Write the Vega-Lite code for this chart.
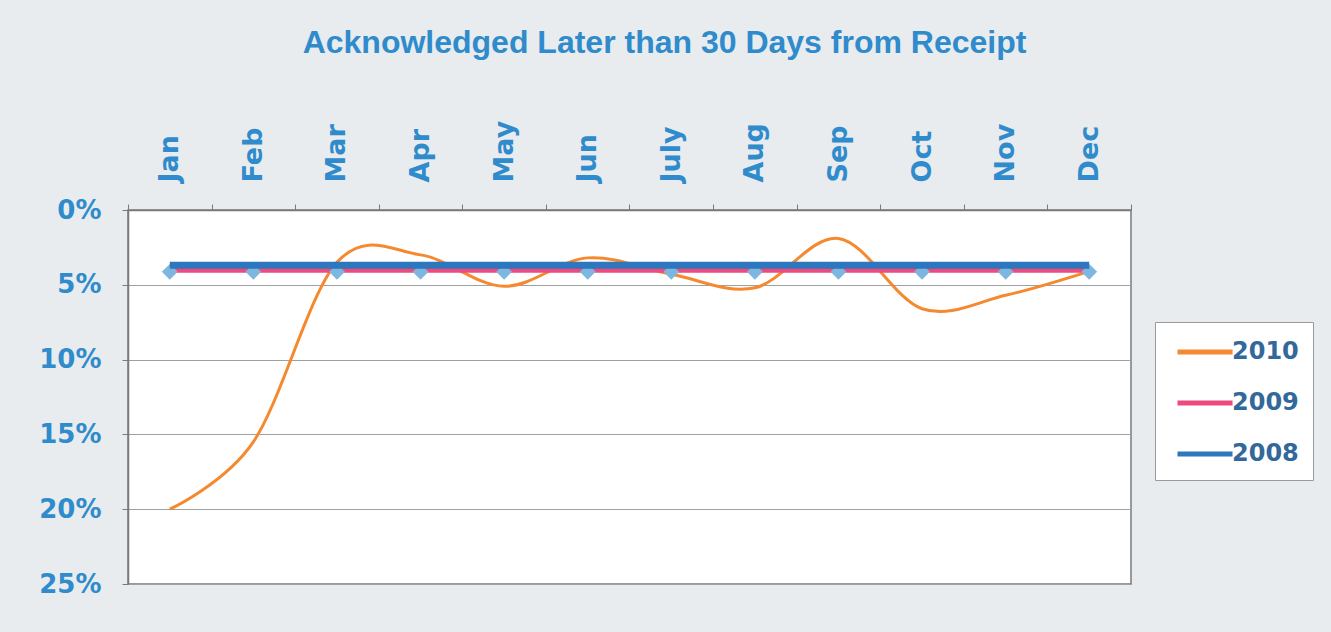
{
  "$schema": "https://vega.github.io/schema/vega-lite/v6.json",
  "width": 1003,
  "height": 374,
  "autosize": {"type": "none"},
  "padding": {"left": 128, "top": 210, "right": 200, "bottom": 48},
  "background": "#E8ECEE",
  "title": {
    "text": "Acknowledged Later than 30 Days from Receipt",
    "font": "Liberation Sans",
    "fontSize": 32,
    "fontWeight": "bold",
    "color": "#2F8BCB",
    "anchor": "middle",
    "dx": 35,
    "offset": 60
  },
  "config": {
    "font": "DejaVu Sans",
    "view": {"fill": "white", "stroke": "#7a7a7a", "strokeWidth": 1.5},
    "legend": {
      "orient": "none",
      "legendX": 1027,
      "legendY": 112,
      "fillColor": "white",
      "strokeColor": "#9a9a9a",
      "padding": 14,
      "symbolType": "M-0.556,0H3.52",
      "symbolSize": 729,
      "symbolStrokeWidth": 5,
      "labelOffset": 31,
      "rowPadding": 23,
      "labelFont": "DejaVu Sans",
      "labelFontSize": 24,
      "labelFontWeight": "bold",
      "labelColor": "#33689A"
    }
  },
  "data": {
    "values": [
      {"month": "Jan", "year": "2010", "value": 0.200},
      {"month": "Feb", "year": "2010", "value": 0.155},
      {"month": "Mar", "year": "2010", "value": 0.035},
      {"month": "Apr", "year": "2010", "value": 0.030},
      {"month": "May", "year": "2010", "value": 0.051},
      {"month": "Jun", "year": "2010", "value": 0.032},
      {"month": "July", "year": "2010", "value": 0.043},
      {"month": "Aug", "year": "2010", "value": 0.052},
      {"month": "Sep", "year": "2010", "value": 0.019},
      {"month": "Oct", "year": "2010", "value": 0.066},
      {"month": "Nov", "year": "2010", "value": 0.057},
      {"month": "Dec", "year": "2010", "value": 0.041},
      {"month": "Jan", "year": "2009", "value": 0.040},
      {"month": "Feb", "year": "2009", "value": 0.040},
      {"month": "Mar", "year": "2009", "value": 0.040},
      {"month": "Apr", "year": "2009", "value": 0.040},
      {"month": "May", "year": "2009", "value": 0.040},
      {"month": "Jun", "year": "2009", "value": 0.040},
      {"month": "July", "year": "2009", "value": 0.040},
      {"month": "Aug", "year": "2009", "value": 0.040},
      {"month": "Sep", "year": "2009", "value": 0.040},
      {"month": "Oct", "year": "2009", "value": 0.040},
      {"month": "Nov", "year": "2009", "value": 0.040},
      {"month": "Dec", "year": "2009", "value": 0.040},
      {"month": "Jan", "year": "2008", "value": 0.037},
      {"month": "Feb", "year": "2008", "value": 0.037},
      {"month": "Mar", "year": "2008", "value": 0.037},
      {"month": "Apr", "year": "2008", "value": 0.037},
      {"month": "May", "year": "2008", "value": 0.037},
      {"month": "Jun", "year": "2008", "value": 0.037},
      {"month": "July", "year": "2008", "value": 0.037},
      {"month": "Aug", "year": "2008", "value": 0.037},
      {"month": "Sep", "year": "2008", "value": 0.037},
      {"month": "Oct", "year": "2008", "value": 0.037},
      {"month": "Nov", "year": "2008", "value": 0.037},
      {"month": "Dec", "year": "2008", "value": 0.037}
    ]
  },
  "encoding": {
    "x": {
      "field": "month",
      "type": "ordinal",
      "sort": ["Jan", "Feb", "Mar", "Apr", "May", "Jun", "July", "Aug", "Sep", "Oct", "Nov", "Dec"],
      "scale": {"type": "band", "paddingInner": 0, "paddingOuter": 0},
      "axis": {
        "orient": "top",
        "title": null,
        "labelAngle": -90,
        "labelFont": "DejaVu Sans",
        "labelFontSize": 27,
        "labelFontWeight": "bold",
        "labelColor": "#2F8BCB",
        "labelPadding": 22,
        "tickBand": "extent",
        "tickSize": 6,
        "tickColor": "#7a7a7a",
        "domainColor": "#7a7a7a",
        "domainWidth": 1.5,
        "grid": false
      }
    },
    "y": {
      "field": "value",
      "type": "quantitative",
      "scale": {"domain": [0, 0.25], "reverse": true, "nice": false},
      "axis": {
        "title": null,
        "format": ".0%",
        "values": [0, 0.05, 0.1, 0.15, 0.2, 0.25],
        "labelFont": "DejaVu Sans",
        "labelFontSize": 26,
        "labelFontWeight": "bold",
        "labelColor": "#2F8BCB",
        "labelPadding": 21,
        "tickSize": 6,
        "tickColor": "#7a7a7a",
        "domainColor": "#7a7a7a",
        "domainWidth": 1.5,
        "grid": true,
        "gridColor": "#a0a0a0",
        "gridWidth": 1
      }
    }
  },
  "layer": [
    {
      "transform": [{"filter": "datum.year == '2010'"}],
      "mark": {"type": "line", "interpolate": "cardinal", "strokeWidth": 3},
      "encoding": {
        "color": {
          "field": "year",
          "type": "nominal",
          "title": null,
          "scale": {"domain": ["2010", "2009", "2008"], "range": ["#F5892F", "#EE4A7D", "#2C77BE"]}
        }
      }
    },
    {
      "transform": [{"filter": "datum.year == '2009'"}],
      "mark": {"type": "line", "strokeWidth": 6},
      "encoding": {
        "color": {"field": "year", "type": "nominal", "title": null}
      }
    },
    {
      "transform": [{"filter": "datum.year == '2009'"}],
      "mark": {"type": "point", "shape": "diamond", "filled": true, "size": 250, "color": "#7DB6E0", "opacity": 1, "yOffset": 2}
    },
    {
      "transform": [{"filter": "datum.year == '2008'"}],
      "mark": {"type": "line", "strokeWidth": 7},
      "encoding": {
        "color": {"field": "year", "type": "nominal", "title": null}
      }
    }
  ]
}
